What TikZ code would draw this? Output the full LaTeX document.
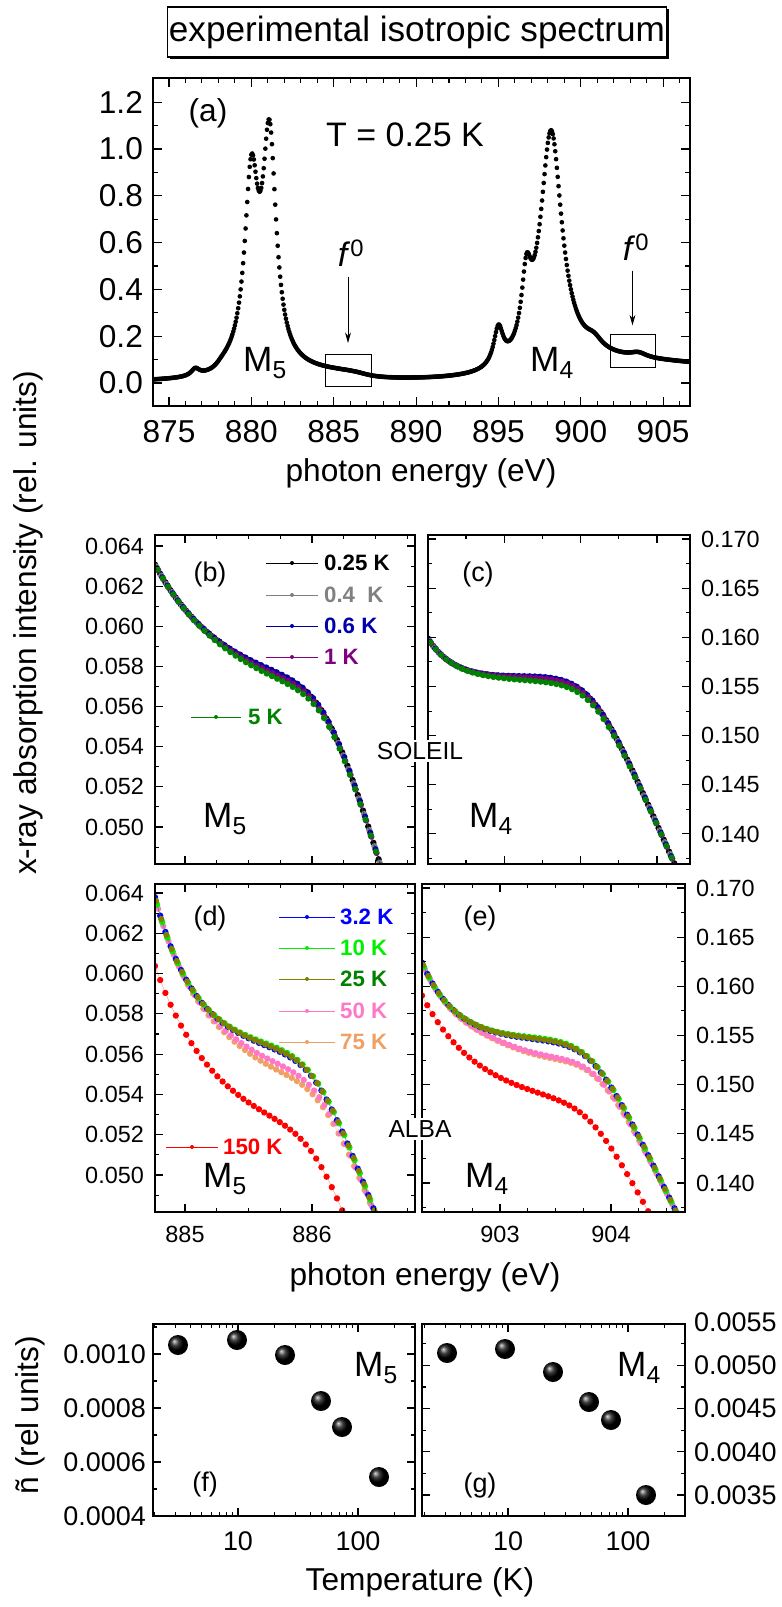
\documentclass[tikz,border=0pt]{standalone}
\usepackage{fontspec}
\setmainfont{Liberation Sans}
\usetikzlibrary{positioning,shadows,arrows.meta}

\definecolor{dkblue}{RGB}{0,0,170}
\definecolor{dkgreen}{RGB}{0,130,0}
\definecolor{ltgreen}{RGB}{0,240,0}
\definecolor{olivec}{RGB}{128,128,0}
\definecolor{pinkc}{RGB}{255,120,200}
\definecolor{orangec}{RGB}{240,160,100}
\definecolor{purplec}{RGB}{128,0,128}

% one row of data dots, in panel units (0..1)
\newcommand\dotrow[3][0]{%
  \draw[#2, line width=0.3pt, opacity=0.5] plot[domain=0:1, samples=60] (\x,{spec(\x,#3)});
  \foreach \i in {0,...,50}{%
    \pgfmathsetmacro\tv{\i/50+#1}%
    \pgfmathsetmacro\sv{spec(\tv,#3)}%
    \node[dot, fill=#2] at (\tv,\sv) {};}}

\begin{document}
\begin{tikzpicture}[
    x=0.03cm, y=-0.03cm,
    frame/.style={draw=black, line width=1.1pt},
    tickline/.style={line width=0.9pt},
    dot/.style={circle, inner sep=0pt, minimum size=0.19cm},
    tdot/.style={circle, inner sep=0pt, minimum size=0.14cm, fill=black},
    ldot/.style={circle, inner sep=0pt, minimum size=0.12cm},
    ball/.style={circle, inner sep=0pt, minimum size=0.6cm, shading=ball, ball color=black},
    biglab/.style={font=\fontsize{27}{30}\selectfont},
    numlab/.style={font=\fontsize{20}{22}\selectfont},
    condlab/.style={font=\fontsize{23}{25}\selectfont},
    leglab/.style={font=\fontsize{19}{21}\selectfont\bfseries, anchor=west},
    panlab/.style={font=\fontsize{23}{25}\selectfont},
    mlab/.style={font=\fontsize{30}{32}\selectfont},
    arr/.style={-{Stealth[length=9pt,width=5pt]}, line width=0.7pt},
    declare function={
      spec(\t,\qa,\qk,\qb,\qt,\qm,\qw,\qz,\qp)=\qa+\qk*\t-\qb*exp(-\t/\qt)+\qm*\qw*ln(1+exp((\t-\qz)/\qw))+\qp*exp(-((\t-0.5)/0.25)^2);
      lor(\t,\qc,\qw,\qa)=\qa/(1+((\t-\qc)/\qw)^2);
      xas(\t)=0.005+0.04*(atan((\t-3)/0.3)-atan((\t-11.8)/0.8))/180
        +lor(\t,1.6,0.3,0.03)+lor(\t,5,0.5,0.77)+lor(\t,6.1,0.5,0.95)
        +lor(\t,20,0.35,0.16)+lor(\t,21.7,0.35,0.27)+lor(\t,23.2,0.8,0.98)
        +lor(\t,25.8,0.6,0.04)+lor(\t,28.5,0.6,0.02)
        +0.1*(atan((\t-21.5)/1)-atan((\t-35)/3))/180;
    }]
\useasboundingbox (0,0) rectangle (781,1607);

% title
\node[draw, line width=1pt, fill=white, drop shadow={shadow xshift=2pt, shadow yshift=-2pt, fill=black, opacity=1},
      minimum width=14.8cm, minimum height=1.5cm, inner sep=1pt, font=\fontsize{30}{32}\selectfont] (title) at (417,32) {experimental isotropic spectrum};

% ---------- panel (a)
\begin{scope}
  \clip (153,78) rectangle (690,406);
  \begin{scope}[shift={(169,383)}, xscale=16.47, yscale=-234]
    \foreach \i in {0,...,650}{%
      \pgfmathsetmacro\uv{-0.95+\i*0.05}%
      \pgfmathsetmacro\wv{xas(\uv)}%
      \node[tdot] at (\uv,\wv) {};}
  \end{scope}
\end{scope}
\draw[frame] (153,78) rectangle (690,406);
\foreach \e in {875,...,906}{%
  \pgfmathsetmacro\xv{169+16.47*(\e-875)}%
  \pgfmathsetmacro\len{mod(\e,5)==0 ? 9 : 5}%
  \draw[tickline] (\xv,406) -- ++(0,-\len);
  \draw[tickline] (\xv,78) -- ++(0,\len);}
\foreach \k in {0,...,12}{%
  \pgfmathsetmacro\yv{383-23.4*\k}%
  \pgfmathsetmacro\len{mod(\k,2)==0 ? 9 : 5}%
  \draw[tickline] (153,\yv) -- ++(\len,0);
  \draw[tickline] (690,\yv) -- ++(-\len,0);}
\foreach \k/\lab in {0/0.0,2/0.2,4/0.4,6/0.6,8/0.8,10/1.0,12/1.2}
  \node[biglab, anchor=east] (ya\k) at (147,383-23.4*\k) {\lab};
\foreach \e in {875,880,...,905}
  \node[biglab] (xa\e) at (169+16.47*\e-16.47*875,432) {\e};
\node[biglab] (xlaba) at (421,473) {photon energy (eV)};
\node[font=\fontsize{27}{30}\selectfont] (laba) at (208,113) {(a)};
\node[font=\fontsize{29}{31}\selectfont] (temp) at (405,135) {T = 0.25 K};
\node[font=\fontsize{30}{32}\selectfont] (m5a) at (265,363) {M\textsubscript{5}};
\node[font=\fontsize{30}{32}\selectfont] (m4a) at (552,363) {M\textsubscript{4}};
\node[draw, line width=0.7pt, minimum width=1.38cm, minimum height=0.96cm] (boxa) at (348,370) {};
\node[draw, line width=0.7pt, minimum width=1.35cm, minimum height=0.99cm] (boxb) at (632.5,350.5) {};
\node[font=\fontsize{29}{31}\selectfont] (f0a) at (351,253) {\textit{f}\textsuperscript{0}};
\node[font=\fontsize{29}{31}\selectfont] (f0b) at (636,247) {\textit{f}\textsuperscript{0}};
\draw[arr, shorten <=5pt, shorten >=9pt] (f0a.south -| boxa.north) -- (boxa.north);
\draw[arr, shorten <=5pt, shorten >=7pt] (f0b.south -| boxb.north) -- (boxb.north);

% big y label
\node[biglab, rotate=90] (ylab) at (28,623) {x-ray absorption intensity (rel. units)};

% ---------- panel (b)
\begin{scope}[shift={(155,535)}, xscale=260, yscale=329]
  \clip (0,0) rectangle (1,1);
  \dotrow{black}{0.44,0.06,0.35,0.25,2.5,0.06,0.66,0}
  \dotrow[0.004]{gray}{0.44,0.06,0.35,0.25,2.5,0.06,0.66,0.003}
  \dotrow[0.008]{dkblue}{0.44,0.06,0.35,0.25,2.5,0.06,0.66,-0.003}
  \dotrow[0.012]{purplec}{0.44,0.06,0.35,0.25,2.5,0.06,0.66,0.006}
  \dotrow[0.01]{dkgreen}{0.44,0.06,0.35,0.25,2.5,0.06,0.66,0.016}
\end{scope}
% ---------- panel (c)
\begin{scope}[shift={(428,535)}, xscale=262, yscale=329]
  \clip (0,0) rectangle (1,1);
  \dotrow{black}{0.44,0,0.125,0.1,1.8,0.06,0.63,-0.01}
  \dotrow[0.004]{gray}{0.44,0,0.125,0.1,1.8,0.06,0.63,-0.008}
  \dotrow[0.008]{dkblue}{0.44,0,0.125,0.1,1.8,0.06,0.63,-0.012}
  \dotrow[0.012]{purplec}{0.44,0,0.125,0.1,1.8,0.06,0.63,-0.007}
  \dotrow[0.01]{dkgreen}{0.44,0,0.125,0.1,1.8,0.06,0.63,0.004}
\end{scope}
% ---------- panel (d)
\begin{scope}[shift={(155,884)}, xscale=260, yscale=328]
  \clip (0,0) rectangle (1,1);
  \dotrow{red}{0.72,0.1,0.47,0.22,2.0,0.06,0.62,0}
  \dotrow[0.006]{orangec}{0.48,0.08,0.44,0.15,2.0,0.06,0.62,0.06}
  \dotrow[0.012]{pinkc}{0.48,0.08,0.44,0.15,2.0,0.06,0.62,0.04}
  \dotrow{blue}{0.48,0.08,0.44,0.15,2.0,0.06,0.62,0}
  \dotrow[0.008]{ltgreen}{0.48,0.08,0.44,0.15,2.0,0.06,0.62,-0.008}
  \dotrow[0.004]{olivec}{0.48,0.08,0.44,0.15,2.0,0.06,0.62,-0.004}
\end{scope}
% ---------- panel (e)
\begin{scope}[shift={(422,884)}, xscale=263, yscale=328]
  \clip (0,0) rectangle (1,1);
  \dotrow{red}{0.64,0.06,0.3,0.2,1.4,0.06,0.64,0}
  \dotrow[0.006]{orangec}{0.48,0,0.24,0.13,1.64,0.06,0.65,0.05}
  \dotrow[0.012]{pinkc}{0.48,0,0.24,0.13,1.64,0.06,0.65,0.045}
  \dotrow{blue}{0.48,0,0.24,0.13,1.64,0.06,0.65,0}
  \dotrow[0.008]{ltgreen}{0.48,0,0.24,0.13,1.64,0.06,0.65,-0.006}
  \dotrow[0.004]{olivec}{0.48,0,0.24,0.13,1.64,0.06,0.65,-0.003}
\end{scope}

\draw[frame] (155,535) rectangle (415,864);
\draw[frame] (428,535) rectangle (690,864);
\draw[frame] (155,884) rectangle (415,1212);
\draw[frame] (422,884) rectangle (685,1212);

% y ticks, left panels
\foreach \m in {49,...,64}{%
  \pgfmathsetmacro\len{mod(\m,2)==0 ? 8 : 4}%
  \pgfmathsetmacro\yb{546+(64-\m)*20.07}%
  \pgfmathsetmacro\yd{893+(64-\m)*20.14}%
  \draw[tickline] (155,\yb) -- ++(\len,0);
  \draw[tickline] (415,\yb) -- ++(-\len,0);
  \draw[tickline] (155,\yd) -- ++(\len,0);
  \draw[tickline] (415,\yd) -- ++(-\len,0);}
\foreach \m in {50,52,...,64}{%
  \node[numlab, anchor=east] (yb\m) at (148,546+20.07*64-20.07*\m) {0.0\m};
  \node[numlab, anchor=east] (yd\m) at (148,893+20.14*64-20.14*\m) {0.0\m};}
% y ticks, right panels
\foreach \k in {0,...,13}{%
  \pgfmathsetmacro\len{mod(\k,2)==0 ? 8 : 4}%
  \pgfmathsetmacro\yc{539+\k*24.58}%
  \pgfmathsetmacro\ye{888+\k*24.58}%
  \draw[tickline] (690,\yc) -- ++(-\len,0);
  \draw[tickline] (428,\yc) -- ++(\len,0);
  \draw[tickline] (685,\ye) -- ++(-\len,0);
  \draw[tickline] (422,\ye) -- ++(\len,0);}
\foreach \k/\lab in {0/0.170,2/0.165,4/0.160,6/0.155,8/0.150,10/0.145,12/0.140}{%
  \node[numlab, anchor=west] (yc\k) at (697,539+\k*24.58) {\lab};
  \node[numlab, anchor=west] (ye\k) at (692,888+\k*24.58) {\lab};}
% x ticks
\foreach \j in {0,...,7}{%
  \pgfmathsetmacro\xv{185+31.75*\j}%
  \pgfmathsetmacro\len{mod(\j,4)==0 ? 8 : 4}%
  \draw[tickline] (\xv,535) -- ++(0,\len);
  \draw[tickline] (\xv,864) -- ++(0,-\len);
  \draw[tickline] (\xv,884) -- ++(0,\len);
  \draw[tickline] (\xv,1212) -- ++(0,-\len);}
\foreach \j in {0,...,5}{%
  \pgfmathsetmacro\xv{466+38.2*\j}%
  \pgfmathsetmacro\len{mod(\j,2)==1 ? 8 : 4}%
  \draw[tickline] (\xv,535) -- ++(0,\len);
  \draw[tickline] (\xv,864) -- ++(0,-\len);}
\foreach \j in {0,...,8}{%
  \pgfmathsetmacro\xv{444.5+27.75*\j}%
  \pgfmathsetmacro\len{mod(\j,4)==2 ? 8 : 4}%
  \draw[tickline] (\xv,884) -- ++(0,\len);
  \draw[tickline] (\xv,1212) -- ++(0,-\len);}
\node[numlab] (x885) at (185,1234) {885};
\node[numlab] (x886) at (312,1234) {886};
\node[numlab] (x903) at (500,1234) {903};
\node[numlab] (x904) at (611,1234) {904};
\node[biglab] (xlabe) at (425,1277) {photon energy (eV)};

% panel texts
\node[panlab] (labb) at (210,575) {(b)};
\node[panlab] (labc) at (478,575) {(c)};
\node[panlab] (labd) at (210,919) {(d)};
\node[panlab] (labe) at (480,919) {(e)};
\node[mlab] (m5b) at (225,819) {M\textsubscript{5}};
\node[mlab] (m4c) at (491,819) {M\textsubscript{4}};
\node[mlab] (m5d) at (225,1179) {M\textsubscript{5}};
\node[mlab] (m4e) at (487,1179) {M\textsubscript{4}};
\node[fill=white, inner sep=2pt, font=\fontsize{21}{23}\selectfont] (soleil) at (420,751) {SOLEIL};
\node[fill=white, inner sep=2pt, font=\fontsize{21}{23}\selectfont] (alba) at (420,1129) {ALBA};

% legends
\foreach \c/\lab/\yv [count=\n] in {black/0.25 K/563, gray/0.4\ \ K/595, dkblue/0.6 K/626, purplec/1 K/657}{%
  \draw[\c, line width=0.7pt] (266,\yv) -- (318,\yv);
  \node[ldot, fill=\c] (lb\n) at (292,\yv) {};
  \node[leglab, text=\c] (tb\n) at (320,\yv) {\lab};}
\draw[dkgreen, line width=0.7pt] (191,717) -- (241,717);
\node[ldot, fill=dkgreen] (lb5) at (216,717) {};
\node[leglab, text=dkgreen] (tb5) at (244,717) {5 K};
\foreach \c/\tc/\lab/\yv [count=\n] in {blue/blue/3.2 K/917, ltgreen/ltgreen/10 K/948, olivec/dkgreen/25 K/979, pinkc/pinkc/50 K/1011, orangec/orangec/75 K/1042}{%
  \draw[\c, line width=0.7pt] (279,\yv) -- (335,\yv);
  \node[ldot, fill=\c] (ld\n) at (307,\yv) {};
  \node[leglab, text=\tc] (td\n) at (336,\yv) {\lab};}
\draw[red, line width=0.7pt] (166,1147) -- (218,1147);
\node[ldot, fill=red] (ld6) at (192,1147) {};
\node[leglab, text=red] (td6) at (219,1147) {150 K};

% ---------- panels (f) and (g)
\draw[frame] (153,1324) rectangle (415,1516);
\draw[frame] (422,1324) rectangle (685,1516);
\foreach \T in {2,3,4,5,6,7,8,9,10,20,30,40,50,60,70,80,90,100,200}{%
  \pgfmathsetmacro\xf{118+120*log10(\T)}%
  \pgfmathsetmacro\xg{388+120*log10(\T)}%
  \pgfmathsetmacro\len{(\T==10 || \T==100) ? 8 : 4}%
  \draw[tickline] (\xf,1516) -- ++(0,-\len);
  \draw[tickline] (\xf,1324) -- ++(0,\len);
  \draw[tickline] (\xg,1516) -- ++(0,-\len);
  \draw[tickline] (\xg,1324) -- ++(0,\len);}
\foreach \v in {5,...,11}{%
  \pgfmathsetmacro\yv{1516-(\v-4)*27}%
  \pgfmathsetmacro\len{mod(\v,2)==0 ? 8 : 4}%
  \draw[tickline] (153,\yv) -- ++(\len,0);
  \draw[tickline] (415,\yv) -- ++(-\len,0);}
\foreach \k in {0,...,7}{%
  \pgfmathsetmacro\yv{1495-21.6*\k}%
  \pgfmathsetmacro\len{mod(\k,2)==0 ? 8 : 4}%
  \draw[tickline] (685,\yv) -- ++(-\len,0);
  \draw[tickline] (422,\yv) -- ++(\len,0);}
\foreach \v/\lab in {4/0.0004,6/0.0006,8/0.0008,10/0.0010}
  \node[condlab, anchor=east] (yf\v) at (150,1516-27*\v+108) {\lab};
\foreach \k/\lab in {0/0.0035,2/0.0040,4/0.0045,6/0.0050,8/0.0055}
  \node[condlab, anchor=west] (yg\k) at (690,1495-21.6*\k) {\lab};
\node[condlab] (xf10) at (238,1541) {10};
\node[condlab] (xf100) at (358,1541) {100};
\node[condlab] (xg10) at (508,1541) {10};
\node[condlab] (xg100) at (628,1541) {100};
\node[biglab] (tlab) at (420,1582) {Temperature (K)};
\node[biglab, rotate=90] (nlab) at (30,1415) {ñ (rel units)};
\foreach \xv/\yv [count=\n] in {178/1345, 237/1340, 285/1355, 321/1401, 342/1427, 379/1477}
  \node[ball] (bf\n) at (\xv,\yv) {};
\foreach \xv/\yv [count=\n] in {447/1353, 505/1349, 553/1372, 589/1402, 611/1420, 646/1495}
  \node[ball] (bg\n) at (\xv,\yv) {};
\node[condlab] (labf) at (205,1485) {(f)};
\node[condlab] (labg) at (480,1486) {(g)};
\node[font=\fontsize{30}{32}\selectfont] (m5f) at (376,1368) {M\textsubscript{5}};
\node[font=\fontsize{30}{32}\selectfont] (m4g) at (639,1368) {M\textsubscript{4}};
\end{tikzpicture}
\end{document}
